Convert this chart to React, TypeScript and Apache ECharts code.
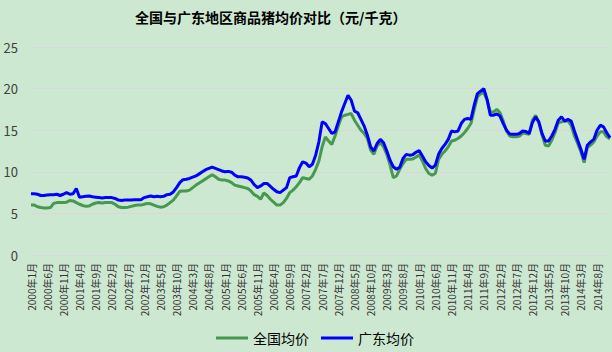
import React, { useEffect, useRef } from "react";
import * as echarts from "echarts";

const TITLE = "全国与广东地区商品猪均价对比（元/千克）";
const SERIES_NAMES = ["全国均价", "广东均价"];
const START_YEAR = 2000;
const YEARS = 15; // 2000年1月 – 2014年12月

// 全国均价 (元/千克), one row per year
const national2000 = [6.0, 6.0, 5.8, 5.7, 5.65, 5.65, 5.7, 6.2, 6.3, 6.3, 6.3, 6.35];
const national2001 = [6.55, 6.5, 6.3, 6.1, 5.95, 5.85, 5.9, 6.1, 6.25, 6.3, 6.25, 6.3];
const national2002 = [6.3, 6.3, 6.1, 5.8, 5.7, 5.7, 5.75, 5.85, 5.95, 6.0, 6.0, 6.1];
const national2003 = [6.2, 6.15, 6.0, 5.85, 5.75, 5.8, 6.0, 6.3, 6.6, 7.1, 7.65, 7.7];
const national2004 = [7.7, 7.8, 8.1, 8.4, 8.65, 8.9, 9.15, 9.4, 9.65, 9.4, 9.1, 9.0];
const national2005 = [9.0, 8.9, 8.7, 8.4, 8.3, 8.2, 8.1, 8.0, 7.7, 7.25, 7.05, 6.7];
const national2006 = [7.45, 7.15, 6.7, 6.35, 6.0, 6.0, 6.3, 6.8, 7.5, 7.8, 8.2, 8.7];
const national2007 = [9.3, 9.2, 9.1, 9.5, 10.3, 11.3, 13.0, 14.2, 13.7, 13.3, 14.3, 15.5];
const national2008 = [16.6, 16.8, 16.9, 17.0, 16.2, 15.6, 15.0, 14.6, 14.0, 12.6, 12.1, 13.1];
const national2009 = [13.5, 13.0, 12.1, 10.8, 9.3, 9.5, 10.3, 11.0, 11.5, 11.5, 11.55, 11.75];
const national2010 = [12.05, 11.3, 10.4, 9.8, 9.6, 9.8, 11.5, 12.1, 12.5, 13.0, 13.7, 13.8];
const national2011 = [14.0, 14.3, 14.7, 15.2, 15.8, 17.4, 19.0, 19.4, 19.5, 18.6, 17.2, 17.2];
const national2012 = [17.5, 17.1, 16.1, 14.9, 14.3, 14.2, 14.2, 14.3, 14.65, 14.6, 14.5, 16.2];
const national2013 = [16.8, 15.9, 14.4, 13.2, 13.1, 13.8, 14.7, 15.9, 16.0, 16.1, 16.1, 15.6];
const national2014 = [14.3, 13.4, 12.4, 11.1, 12.9, 13.2, 13.6, 14.3, 14.8, 14.8, 14.2, 13.95];

// 广东均价 (元/千克), one row per year
const guangdong2000 = [7.35, 7.35, 7.3, 7.15, 7.15, 7.2, 7.25, 7.25, 7.3, 7.15, 7.3, 7.5];
const guangdong2001 = [7.3, 7.35, 8.0, 6.95, 7.0, 7.05, 7.1, 7.0, 6.95, 6.9, 6.85, 6.9];
const guangdong2002 = [6.9, 6.9, 6.8, 6.6, 6.55, 6.6, 6.6, 6.6, 6.65, 6.65, 6.65, 6.9];
const guangdong2003 = [7.0, 7.1, 7.0, 7.05, 7.0, 7.05, 7.25, 7.3, 7.58, 8.1, 8.7, 9.05];
const guangdong2004 = [9.1, 9.2, 9.35, 9.5, 9.75, 10.0, 10.25, 10.4, 10.55, 10.4, 10.25, 10.1];
const guangdong2005 = [10.0, 10.05, 9.95, 9.6, 9.4, 9.4, 9.35, 9.25, 9.0, 8.45, 8.1, 8.3];
const guangdong2006 = [8.6, 8.6, 8.25, 7.9, 7.6, 7.5, 7.8, 8.1, 9.3, 9.4, 9.5, 10.5];
const guangdong2007 = [11.2, 11.05, 10.6, 10.9, 12.0, 13.6, 16.0, 15.8, 15.2, 14.6, 14.8, 16.0];
const guangdong2008 = [17.2, 18.2, 19.2, 18.6, 17.3, 17.1, 16.3, 15.5, 14.4, 13.0, 12.5, 13.4];
const guangdong2009 = [13.9, 13.5, 12.5, 11.4, 10.6, 10.3, 10.55, 11.6, 12.1, 12.0, 12.05, 12.35];
const guangdong2010 = [12.55, 11.9, 11.2, 10.75, 10.45, 10.8, 12.1, 12.8, 13.3, 13.9, 14.9, 14.8];
const guangdong2011 = [14.9, 15.8, 16.3, 16.4, 16.3, 18.0, 19.4, 19.7, 20.0, 18.7, 16.8, 16.8];
const guangdong2012 = [16.95, 16.7, 15.8, 15.0, 14.55, 14.5, 14.5, 14.6, 14.9, 14.85, 14.6, 15.9];
const guangdong2013 = [16.6, 16.0, 14.6, 13.7, 13.7, 14.3, 15.1, 16.2, 16.6, 16.1, 16.3, 16.1];
const guangdong2014 = [14.9, 13.8, 12.7, 11.5, 13.2, 13.6, 13.9, 15.0, 15.6, 15.4, 14.7, 14.1];

const national = [
  ...national2000, ...national2001, ...national2002, ...national2003, ...national2004,
  ...national2005, ...national2006, ...national2007, ...national2008, ...national2009,
  ...national2010, ...national2011, ...national2012, ...national2013, ...national2014,
];
const guangdong = [
  ...guangdong2000, ...guangdong2001, ...guangdong2002, ...guangdong2003, ...guangdong2004,
  ...guangdong2005, ...guangdong2006, ...guangdong2007, ...guangdong2008, ...guangdong2009,
  ...guangdong2010, ...guangdong2011, ...guangdong2012, ...guangdong2013, ...guangdong2014,
];

const categories: string[] = [];
for (let y = 0; y < YEARS; y++) {
  for (let m = 1; m <= 12; m++) categories.push(`${START_YEAR + y}年${m}月`);
}

const Y_MIN = 0;
const Y_MAX = 25;
const Y_STEP = 5;

const BG = "#CDE8D0";
const GREEN = "#46994F";
const BLUE = "#0000FF";
const GRID_COLOR = "#DCD5DA";
const FONT = "'Noto Sans CJK SC', 'Noto Sans', sans-serif";

export default function App() {
  const ref = useRef<HTMLDivElement>(null);
  useEffect(() => {
    if (!ref.current) return;
    const chart = echarts.init(ref.current, undefined, { renderer: "svg" });
    chart.setOption({
      animation: false,
      backgroundColor: BG,
      textStyle: { fontFamily: FONT },
      title: {
        text: TITLE,
        left: 135,
        top: 10,
        padding: 0,
        textStyle: { fontSize: 14, fontWeight: "bold", color: "#000", fontFamily: FONT },
      },
      legend: {
        data: SERIES_NAMES,
        left: 216,
        top: 331,
        padding: 0,
        icon: "rect",
        itemWidth: 32,
        itemHeight: 3,
        itemGap: 12,
        textStyle: { fontSize: 14, color: "#000", fontFamily: FONT },
      },
      grid: { left: 31, right: 2, top: 47, bottom: 97, containLabel: false },
      xAxis: {
        type: "category",
        data: categories,
        boundaryGap: false,
        axisLine: { show: false },
        axisTick: { show: false },
        axisLabel: {
          interval: 4,
          rotate: 90,
          margin: 8,
          fontSize: 10,
          color: "#333",
          fontFamily: FONT,
        },
        splitLine: { show: false },
      },
      yAxis: {
        type: "value",
        min: Y_MIN,
        max: Y_MAX,
        interval: Y_STEP,
        axisLine: { show: false },
        axisTick: { show: false },
        axisLabel: { fontSize: 13, color: "#404040", margin: 13, fontFamily: FONT },
        splitLine: { lineStyle: { color: GRID_COLOR, width: 1 } },
      },
      series: [
        {
          name: SERIES_NAMES[0],
          type: "line",
          data: national,
          showSymbol: false,
          symbol: "none",
          lineStyle: { color: GREEN, width: 3 },
          itemStyle: { color: GREEN },
        },
        {
          name: SERIES_NAMES[1],
          type: "line",
          data: guangdong,
          showSymbol: false,
          symbol: "none",
          lineStyle: { color: BLUE, width: 3 },
          itemStyle: { color: BLUE },
        },
      ],
    });
    return () => chart.dispose();
  }, []);
  return (
    <div
      ref={ref}
      style={{ position: "fixed", left: 0, top: 0, width: 612, height: 352, background: BG }}
    />
  );
}
